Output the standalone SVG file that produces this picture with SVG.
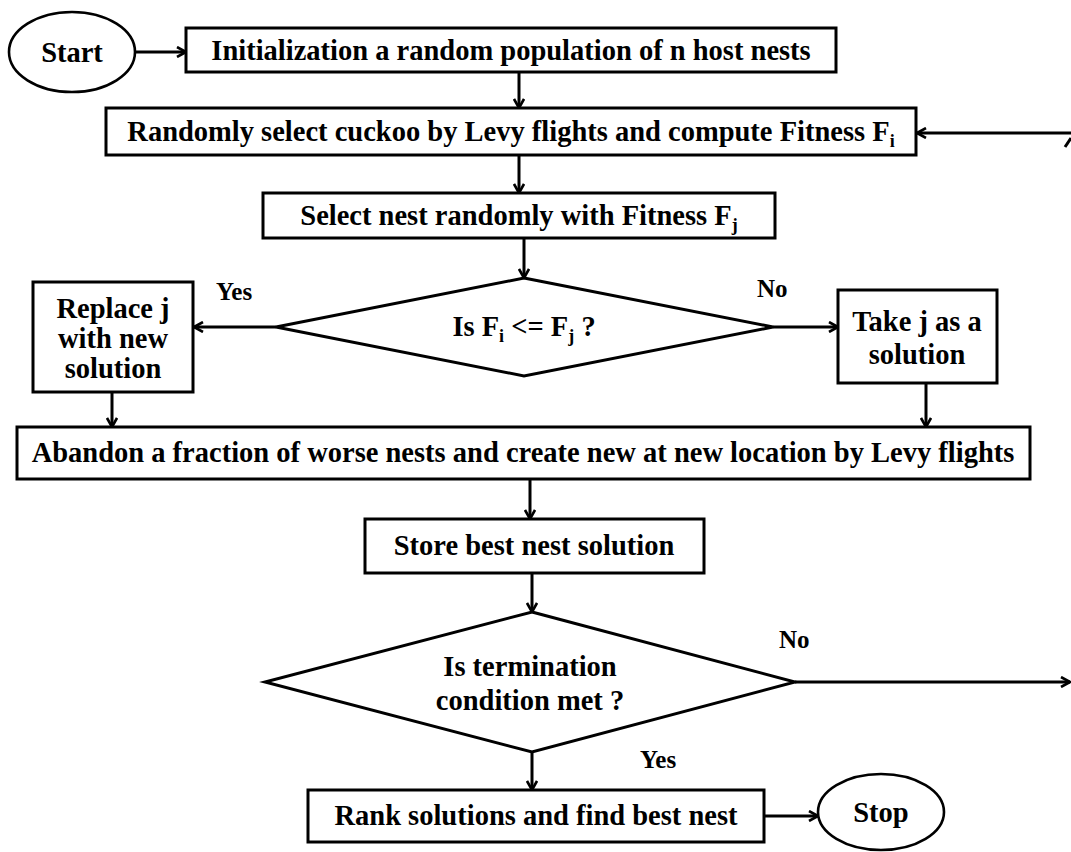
<svg xmlns="http://www.w3.org/2000/svg" width="1071" height="852" viewBox="0 0 1071 852">
  <defs>
    <marker id="arrow" viewBox="0 0 12 12" refX="11" refY="6" markerWidth="12" markerHeight="12" markerUnits="userSpaceOnUse" orient="auto">
      <path d="M2,1 L11,6 L2,11" fill="none" stroke="#000" stroke-width="2.6" stroke-linejoin="miter"/>
    </marker>
  </defs>
  <style>
    .box { fill: #fff; stroke: #000; stroke-width: 3; }
    .term { fill: #fff; stroke: #000; stroke-width: 2.6; }
    .lbl { font-family: "Liberation Serif", "Times New Roman", serif; font-weight: bold; font-size: 28.5px; fill: #000; text-anchor: middle; }
    .tag { font-family: "Liberation Serif", "Times New Roman", serif; font-weight: bold; font-size: 25px; fill: #000; }
    .sub { font-size: 18px; }
    .edge { fill: none; stroke: #000; stroke-width: 3; marker-end: url(#arrow); }
    .plain { fill: none; stroke: #000; stroke-width: 3; }
  </style>
  <rect width="1071" height="852" fill="#fff"/>

  <!-- connectors -->
  <g id="connectors">
    <line class="edge" x1="136" y1="52" x2="186" y2="52"/>
    <line class="edge" x1="519" y1="72" x2="519" y2="108"/>
    <line class="edge" x1="1071" y1="133" x2="917" y2="133"/>
    <line class="plain" x1="1065" y1="147" x2="1071" y2="138"/>
    <line class="edge" x1="519" y1="155" x2="519" y2="193"/>
    <line class="edge" x1="524" y1="238" x2="524" y2="278"/>
    <line class="edge" x1="276" y1="327" x2="194" y2="327"/>
    <line class="edge" x1="773" y1="327" x2="838" y2="327"/>
    <line class="edge" x1="112" y1="392" x2="112" y2="427"/>
    <line class="edge" x1="926" y1="383" x2="926" y2="427"/>
    <line class="edge" x1="530" y1="479" x2="530" y2="519"/>
    <line class="edge" x1="532" y1="573" x2="532" y2="612"/>
    <line class="edge" x1="795" y1="682" x2="1070" y2="682"/>
    <line class="edge" x1="532" y1="752" x2="532" y2="790"/>
    <line class="edge" x1="764" y1="816" x2="818" y2="816"/>
  </g>

  <g id="start">
    <ellipse class="term" cx="72" cy="52" rx="63" ry="40"/>
    <text class="lbl" x="72" y="62">Start</text>
  </g>

  <g id="init">
    <rect class="box" x="186" y="28" width="650" height="44"/>
    <text class="lbl" x="511" y="60">Initialization a random population of n host nests</text>
  </g>

  <g id="levy">
    <rect class="box" x="106" y="108" width="810" height="47"/>
    <text class="lbl" x="511" y="141">Randomly select cuckoo by Levy flights and compute Fitness F<tspan class="sub" dy="6">i</tspan></text>
  </g>

  <g id="select">
    <rect class="box" x="263" y="193" width="512" height="45"/>
    <text class="lbl" x="519" y="225">Select nest randomly with Fitness F<tspan class="sub" dy="6">j</tspan></text>
  </g>

  <g id="compare">
    <polygon class="box" points="524,278 773,327 524,376 276,327"/>
    <text class="lbl" x="524" y="336">Is F<tspan class="sub" dy="6">i</tspan><tspan dy="-6"> &lt;= F</tspan><tspan class="sub" dy="6">j</tspan><tspan dy="-6"> ?</tspan></text>
  </g>

  <g id="replace">
    <rect class="box" x="33" y="282" width="160" height="110"/>
    <text class="lbl" x="113" y="318">Replace j</text>
    <text class="lbl" x="113" y="348">with new</text>
    <text class="lbl" x="113" y="378">solution</text>
  </g>

  <g id="take">
    <rect class="box" x="838" y="290" width="159" height="93"/>
    <text class="lbl" x="917" y="331">Take j as a</text>
    <text class="lbl" x="917" y="364">solution</text>
  </g>

  <g id="abandon">
    <rect class="box" x="17" y="427" width="1013" height="52"/>
    <text class="lbl" x="523" y="462">Abandon a fraction of worse nests and create new at new location by Levy flights</text>
  </g>

  <g id="store">
    <rect class="box" x="365" y="519" width="339" height="54"/>
    <text class="lbl" x="534" y="555">Store best nest solution</text>
  </g>

  <g id="termination">
    <polygon class="box" points="532,612 795,682 532,752 265,682"/>
    <text class="lbl" x="530" y="676">Is termination</text>
    <text class="lbl" x="530" y="710">condition met ?</text>
  </g>

  <g id="rank">
    <rect class="box" x="308" y="790" width="456" height="52"/>
    <text class="lbl" x="536" y="825">Rank solutions and find best nest</text>
  </g>

  <g id="stop">
    <ellipse class="term" cx="881" cy="812" rx="63" ry="38"/>
    <text class="lbl" x="881" y="822">Stop</text>
  </g>

  <g id="labels">
    <text class="tag" x="216" y="300">Yes</text>
    <text class="tag" x="757" y="297">No</text>
    <text class="tag" x="779" y="648">No</text>
    <text class="tag" x="640" y="768">Yes</text>
  </g>
</svg>
